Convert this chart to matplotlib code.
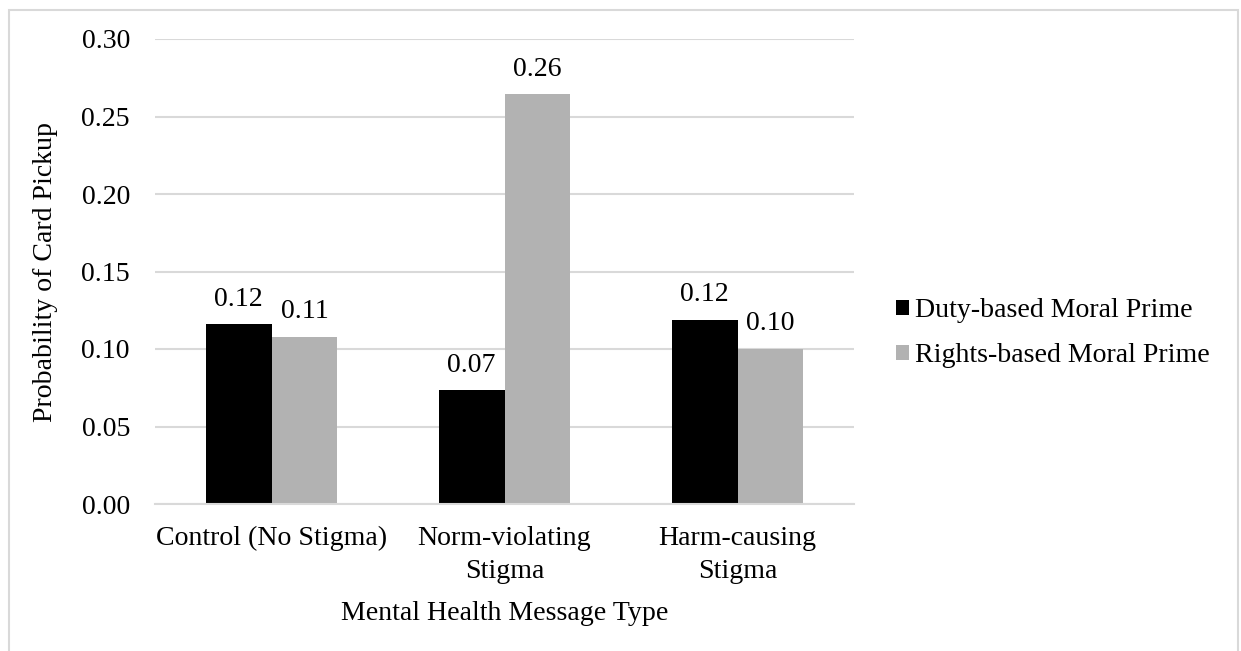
import matplotlib
matplotlib.use("Agg")
import matplotlib.pyplot as plt
from matplotlib.patches import Patch, Rectangle
import numpy as np

categories = ["Control (No Stigma)", "Norm-violating\nStigma", "Harm-causing\nStigma"]
series_names = ["Duty-based Moral Prime", "Rights-based Moral Prime"]
duty_values = [0.116, 0.0735, 0.119]
rights_values = [0.108, 0.2645, 0.100]
y_ticks = [0.00, 0.05, 0.10, 0.15, 0.20, 0.25, 0.30]

plt.rcParams["font.family"] = ["Liberation Serif", "DejaVu Serif"]
FS = 20.1
GRID = "#d9d9d9"
colors = ["#000000", "#b2b2b2"]

W, H = 1241, 651
fig = plt.figure(figsize=(W / 100, H / 100), dpi=100)
fig.patch.set_facecolor("white")

# outer chart frame (open at the bottom edge)
fig.add_artist(Rectangle((8.5 / W, -0.05), (1229.5) / W, (651 - 10 + 0.05 * H) / H,
                         transform=fig.transFigure, fill=False,
                         edgecolor=GRID, linewidth=1.5, clip_on=False))

ax = fig.add_axes([155 / W, (H - 504) / H, (854 - 155) / W, (504 - 39) / H])

x = np.arange(len(categories))
bw = 0.283
series = [duty_values, rights_values]
offsets = [-bw / 2, bw / 2]
for vals, off, col, name in zip(series, offsets, colors, series_names):
    bars = ax.bar(x + off, vals, width=bw, color=col, label=name, zorder=3)
    for b, v in zip(bars, vals):
        ax.annotate(f"{v:.2f}", (b.get_x() + b.get_width() / 2, v),
                    xytext=(0, 18.0), textcoords="offset points",
                    ha="center", va="center", fontsize=FS, color="black")

ax.set_xlim(-0.5, len(categories) - 0.5)
ax.set_ylim(0, 0.30)
ax.set_yticks(y_ticks)
ax.set_yticklabels([f"{t:.2f}" for t in y_ticks])
ax.set_xticks(x)
ax.set_xticklabels(categories, linespacing=1.42)
ax.tick_params(axis="both", length=0, labelsize=FS)
ax.tick_params(axis="y", pad=18)
ax.tick_params(axis="x", pad=16)

ax.grid(axis="y", color=GRID, linewidth=1.5, zorder=0)
for s in ["top", "right", "left"]:
    ax.spines[s].set_visible(False)
ax.spines["bottom"].set_color(GRID)
ax.spines["bottom"].set_linewidth(1.5)
ax.spines["bottom"].set_zorder(4)

ax.set_ylabel("Probability of Card Pickup", fontsize=FS, labelpad=17)
ax.set_xlabel("Mental Health Message Type", fontsize=FS, labelpad=12)

handles = [Patch(facecolor=c, edgecolor="none") for c in colors]
fig.legend(handles, series_names, loc="center left",
           bbox_to_anchor=(896 / W, (H - 333) / H), bbox_transform=fig.transFigure,
           frameon=False, fontsize=FS, handlelength=0.45, handleheight=0.45,
           handletextpad=0.22, labelspacing=0.72, borderpad=0, borderaxespad=0)

fig.savefig("out.png", dpi=100, facecolor="white")
